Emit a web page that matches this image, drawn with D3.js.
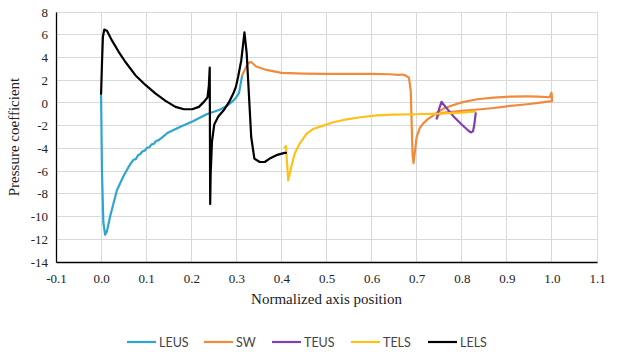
<!DOCTYPE html>
<html><head><meta charset="utf-8">
<script src="https://cdn.jsdelivr.net/npm/d3@7"></script>
<style>body{margin:0;background:#fff}svg{display:block}</style>
</head><body>
<svg id="c" width="623" height="357"></svg>
<script>
const seriesNames = ["LEUS","SW","TEUS","TELS","LELS"];
const seriesColors = ["#2fa4cf","#f08a3c","#7e3fb3","#ffc01a","#000000"];
const xTicks = [-0.1,0.0,0.1,0.2,0.3,0.4,0.5,0.6,0.7,0.8,0.9,1.0,1.1];
const yTicks = [8,6,4,2,0,-2,-4,-6,-8,-10,-12,-14];

const leusX = [0.0,0.002,0.005,0.009,0.013,0.02,0.035,0.049,0.06,0.067,0.072,0.077,0.082,0.087,0.092,0.097,0.102,0.107,0.112,0.117,0.122,0.127,0.135,0.147,0.176,0.205,0.234,0.263,0.28,0.292,0.3,0.306,0.311,0.313];
const leusY = [0.7,-6,-10.5,-11.6,-11.3,-10.0,-7.7,-6.5,-5.7,-5.25,-5.0,-4.95,-4.6,-4.5,-4.25,-4.2,-3.95,-3.9,-3.65,-3.6,-3.35,-3.3,-3.05,-2.65,-2.1,-1.6,-1.0,-0.6,-0.25,0.15,0.5,0.88,2.0,2.4];

const swX = [0.313,0.32,0.326,0.333,0.344,0.367,0.4,0.45,0.5,0.55,0.6,0.64,0.66,0.668,0.676,0.683,0.687,0.689,0.691,0.693,0.697,0.7,0.707,0.716,0.724,0.735,0.745,0.76,0.78,0.8,0.834,0.871,0.908,0.945,0.97,0.995,0.999,1.0,1.0,0.97,0.945,0.9,0.871,0.83,0.8,0.77,0.755,0.747,0.744];
const swY = [2.44,3.0,3.5,3.6,3.2,2.9,2.65,2.58,2.55,2.55,2.55,2.52,2.47,2.5,2.4,2.2,1.0,-2.0,-4.6,-5.3,-4.0,-3.0,-2.2,-1.75,-1.45,-1.15,-0.85,-0.5,-0.2,0.05,0.32,0.47,0.56,0.57,0.56,0.5,0.9,0.55,0.15,0.0,-0.12,-0.3,-0.45,-0.6,-0.7,-0.8,-0.9,-1.1,-1.4];

const teusX = [0.745,0.75,0.755,0.764,0.783,0.801,0.815,0.82,0.825,0.828,0.83,0.831];
const teusY = [-1.35,-0.5,0.1,-0.35,-1.24,-1.94,-2.45,-2.6,-2.5,-1.9,-1.2,-0.9];

const telsX = [0.407,0.41,0.412,0.415,0.418,0.422,0.43,0.441,0.456,0.47,0.493,0.515,0.538,0.575,0.612,0.649,0.7,0.75,0.8,0.83];
const telsY = [-3.9,-3.8,-5.0,-6.8,-6.3,-5.6,-4.4,-3.56,-2.7,-2.3,-2.0,-1.7,-1.5,-1.26,-1.1,-1.03,-1.0,-0.95,-0.85,-0.75];

const lelsX = [0.0,0.002,0.004,0.007,0.013,0.024,0.039,0.054,0.076,0.099,0.121,0.143,0.165,0.184,0.202,0.217,0.228,0.236,0.239,0.241,0.2415,0.242,0.243,0.246,0.251,0.26,0.272,0.284,0.293,0.299,0.304,0.311,0.318,0.323,0.329,0.333,0.34,0.352,0.363,0.374,0.389,0.407,0.41];
const lelsY = [0.8,3.5,5.8,6.45,6.35,5.5,4.5,3.6,2.44,1.56,0.82,0.18,-0.35,-0.56,-0.56,-0.35,0.09,0.47,1.5,3.1,-3,-8.9,-6.3,-3.4,-1.9,-1.2,-0.65,0.09,0.8,1.41,2.3,3.76,6.2,4.35,-0.06,-3.0,-4.9,-5.2,-5.2,-4.9,-4.6,-4.4,-4.4];

const seriesX = [leusX, swX, teusX, telsX, lelsX];
const seriesY = [leusY, swY, teusY, telsY, lelsY];

const serif = "'Liberation Serif', 'Times New Roman', serif";
const svg = d3.select("#c");
const L = 56, R = 597, T = 12, B = 262;
const x = d3.scaleLinear().domain([-0.1, 1.1]).range([L, R]);
const y = d3.scaleLinear().domain([-14, 8]).range([B, T]);

// gridlines
svg.append("g").selectAll("line").data(yTicks).join("line")
  .attr("x1", L).attr("x2", R).attr("y1", d => y(d)).attr("y2", d => y(d))
  .attr("stroke", "#d9d9d9").attr("stroke-width", 1).attr("shape-rendering","crispEdges");
svg.append("g").selectAll("line").data(xTicks).join("line")
  .attr("y1", T).attr("y2", B).attr("x1", d => x(d)).attr("x2", d => x(d))
  .attr("stroke", "#d9d9d9").attr("stroke-width", 1).attr("shape-rendering","crispEdges");

// axes
const fmtX = d => (d < 0 ? "-" : "") + d3.format(".1f")(Math.abs(d));
const fmtY = d => (d < 0 ? "-" : "") + Math.abs(d);
const xAxis = svg.append("g").attr("transform", `translate(0,${B})`)
  .call(d3.axisBottom(x).tickValues(xTicks).tickFormat(fmtX).tickSize(0).tickPadding(12));
const yAxis = svg.append("g").attr("transform", `translate(${L},0)`)
  .call(d3.axisLeft(y).tickValues(yTicks).tickFormat(fmtY).tickSize(0).tickPadding(8));
[xAxis, yAxis].forEach(a => {
  a.attr("font-family", serif).attr("font-size", 13);
  a.select(".domain").attr("stroke", "#000").attr("stroke-width", 1.3);
  a.selectAll("text").style("font-family", serif).attr("font-size", 13).attr("fill", "#222");
});

// axis titles
svg.append("text").attr("x", (L + R) / 2).attr("y", 304).attr("text-anchor", "middle")
  .style("font-family", serif).attr("font-size", 15).attr("fill", "#222")
  .text("Normalized axis position");
svg.append("text").attr("transform", `translate(19,${(T + B) / 2}) rotate(-90)`).attr("text-anchor", "middle")
  .style("font-family", serif).attr("font-size", 15).attr("fill", "#222")
  .text("Pressure coefficient");

// series
const line = d3.line().x(d => x(d[0])).y(d => y(d[1]));
seriesNames.forEach((n, i) => {
  const pts = seriesX[i].map((v, j) => [v, seriesY[i][j]]);
  svg.append("path").datum(pts).attr("d", line).attr("fill", "none")
    .attr("stroke", seriesColors[i]).attr("stroke-width", 2.2)
    .attr("stroke-linejoin", "round").attr("stroke-linecap", "round");
});

// legend
const legX = [127, 204, 272, 351, 428];
const lg = svg.append("g");
seriesNames.forEach((n, i) => {
  lg.append("line").attr("x1", legX[i]).attr("x2", legX[i] + 29).attr("y1", 342).attr("y2", 342)
    .attr("stroke", seriesColors[i]).attr("stroke-width", 2.2);
  lg.append("text").attr("x", legX[i] + 32).attr("y", 346.5)
    .style("font-family", "Lato, 'Open Sans', sans-serif").attr("font-size", 12.5).attr("fill", "#444").text(n);
});
</script>
</body></html>
